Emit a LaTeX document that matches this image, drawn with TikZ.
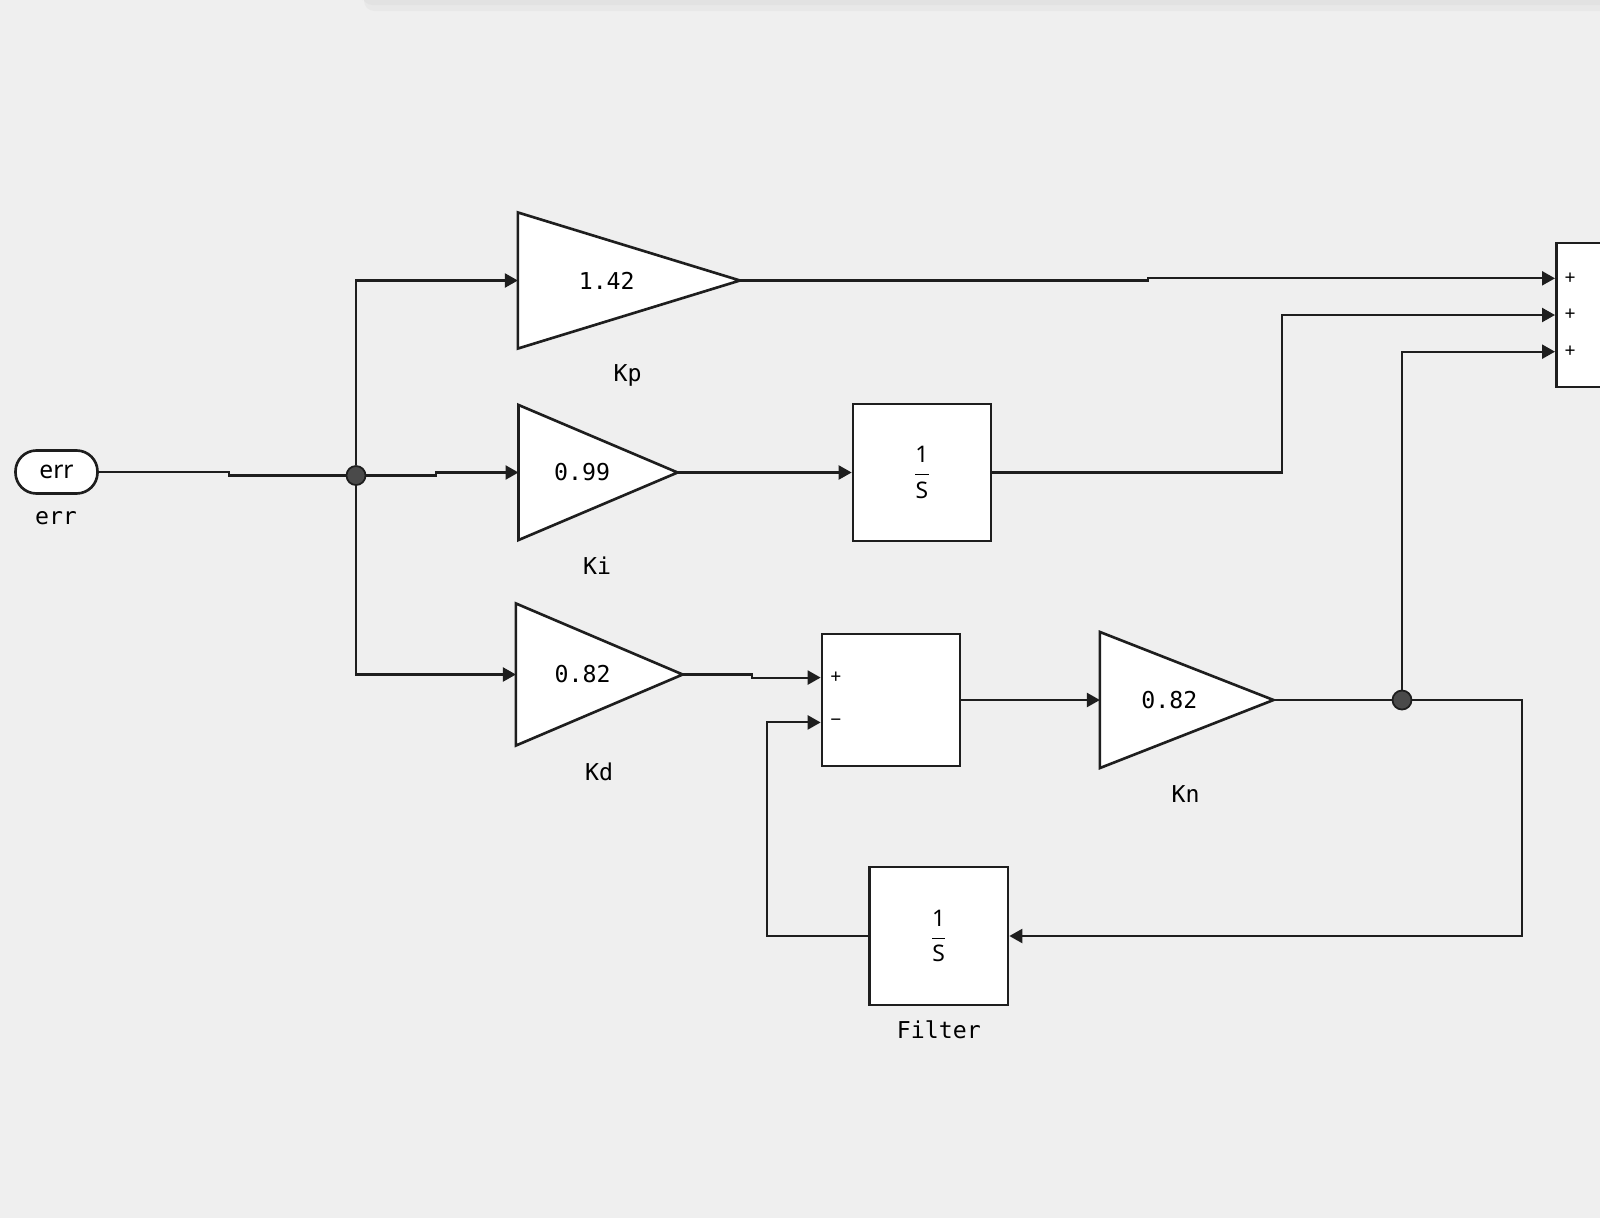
\documentclass[tikz,border=0pt]{standalone}
\usepackage{amsmath}
\usepackage{fontspec}
\setmainfont{Noto Sans}
\newfontfamily\monofont{DejaVu Sans Mono}
\usepackage{tikz}
\usetikzlibrary{positioning,calc,shapes.geometric,arrows.meta}
\definecolor{bgc}{HTML}{EFEFEF}
\definecolor{ink}{HTML}{1E1E1E}
\definecolor{dotc}{HTML}{4A4A4A}
\definecolor{barc}{HTML}{E2E2E2}
\definecolor{barl}{HTML}{E8E8E8}

\begin{document}
\begin{tikzpicture}[
    x=0.01cm, y=-0.01cm,
    block/.style={draw=ink, fill=white, line width=0.75pt, inner sep=0pt, font=\fontsize{6.5}{8}\selectfont},
    gain/.style={draw=ink, fill=white, line width=0.75pt, isosceles triangle, isosceles triangle stretches, shape border rotate=0, inner sep=0pt, outer sep=0pt},
    val/.style={font=\monofont\fontsize{6.6}{8}\selectfont, inner sep=0pt},
    lbl/.style={font=\monofont\fontsize{6.6}{8}\selectfont, inner sep=0pt},
    sgn/.style={font=\fontsize{5.5}{6}\selectfont, inner sep=0pt},
    junc/.style={circle, draw=ink, fill=dotc, line width=0.5pt, minimum size=0.19cm, inner sep=0pt},
    wire/.style={draw=ink, line width=0.6pt},
    arrow/.style={wire, -{Triangle[length=3.7pt, width=4pt]}}
  ]
    \useasboundingbox (0,0) rectangle (1600,1218);
    \clip (0,0) rectangle (1600,1218);
    \fill[bgc] (0,0) rectangle (1600,1218);
    % panel edge at the top
    \fill[barl, rounded corners=3pt] (364,-10) rectangle (1620,11);
    \fill[barc, rounded corners=3pt] (362,-10) rectangle (1620,5);

    % input
    \node[block, rounded corners=0.21cm, minimum width=0.82cm, minimum height=0.43cm, font=\fontsize{7}{8}\selectfont] (err) at (56.5,472) {err};
    \node[lbl] (errl) at (56,518) {err};
    \node[junc] (sp1) at (356,475.5) {};

    % gains (minimum height runs base to apex here)
    \node[gain, minimum height=2.22cm, minimum width=1.36cm, anchor=apex] (kp) at (740,280.5) {};
    \node[val] (kpv) at ($(kp.lower side)!0.4!(kp.apex)$) {1.42};
    \node[lbl] (kpl) at (627.6,375.5) {Kp};

    \node[gain, minimum height=1.59cm, minimum width=1.35cm, anchor=apex] (ki) at (677.6,472.5) {};
    \node[val] (kiv) at ($(ki.lower side)!0.4!(ki.apex)$) {0.99};
    \node[lbl] (kil) at (597,565.3) {Ki};

    \node[gain, minimum height=1.667cm, minimum width=1.42cm, anchor=apex] (kd) at (682.7,674.5) {};
    \node[val] (kdv) at ($(kd.lower side)!0.4!(kd.apex)$) {0.82};
    \node[lbl] (kdl) at (599,771.4) {Kd};

    \node[gain, minimum height=1.735cm, minimum width=1.36cm, anchor=apex] (kn) at (1273.5,700) {};
    \node[val] (knv) at ($(kn.lower side)!0.4!(kn.apex)$) {0.82};
    \node[lbl] (knl) at (1185.7,794) {Kn};

    % integrators
    \node[block, minimum width=1.38cm, minimum height=1.37cm] (int1) at (922,472.5) {$\dfrac{\text{1}}{\text{S}}$};
    \node[block, minimum width=1.386cm, minimum height=1.378cm] (filt) at (938.7,936) {$\dfrac{\text{1}}{\text{S}}$};
    \node[lbl] (filtl) at (938.8,1029.6) {Filter};

    % sums
    \node[block, minimum width=1.38cm, minimum height=1.316cm] (sumd) at (891,700) {};
    \coordinate (sumd-1) at ($(sumd.north west)!0.333!(sumd.south west)$);
    \coordinate (sumd-2) at ($(sumd.north west)!0.667!(sumd.south west)$);
    \node[sgn, right=0.09cm of sumd-1] (sgnd1) {+};
    \node[sgn, right=0.09cm of sumd-2] (sgnd2) {−};

    \node[block, minimum width=1cm, minimum height=1.44cm, anchor=west] (sumo) at (1555,315) {};
    \coordinate (sumo-1) at ($(sumo.north west)!0.25!(sumo.south west)$);
    \coordinate (sumo-2) at ($(sumo.north west)!0.5!(sumo.south west)$);
    \coordinate (sumo-3) at ($(sumo.north west)!0.75!(sumo.south west)$);
    \node[sgn, right=0.09cm of sumo-1] (sgno1) {+};
    \node[sgn, right=0.09cm of sumo-2] (sgno2) {+};
    \node[sgn, right=0.09cm of sumo-3] (sgno3) {+};

    \node[junc] (sp2) at (1402,700) {};

    % connections
    \draw[wire] (err.east) -- ++(130,0) |- (sp1);
    \draw[arrow] (sp1) |- (kp.lower side);
    \draw[arrow] (sp1) -- ++(80,0) |- (ki.lower side);
    \draw[arrow] (sp1) |- (kd.lower side);
    \draw[arrow] (kp.apex) -- ++(408,0) |- (sumo-1);
    \draw[arrow] (ki.apex) -- (int1.west);
    \draw[arrow] (int1.east) -- ++(290,0) |- (sumo-2);
    \draw[arrow] (kd.apex) -- ++(69,0) |- (sumd-1);
    \draw[arrow] (sumd.east) -- (kn.lower side);
    \draw[wire] (kn.apex) -- (sp2);
    \draw[arrow] (sp2) |- (sumo-3);
    \draw[arrow] (sp2) -- ++(120,0) |- (filt.east);
    \draw[arrow] (filt.west) -- ++(-101,0) |- (sumd-2);
\end{tikzpicture}
\end{document}
